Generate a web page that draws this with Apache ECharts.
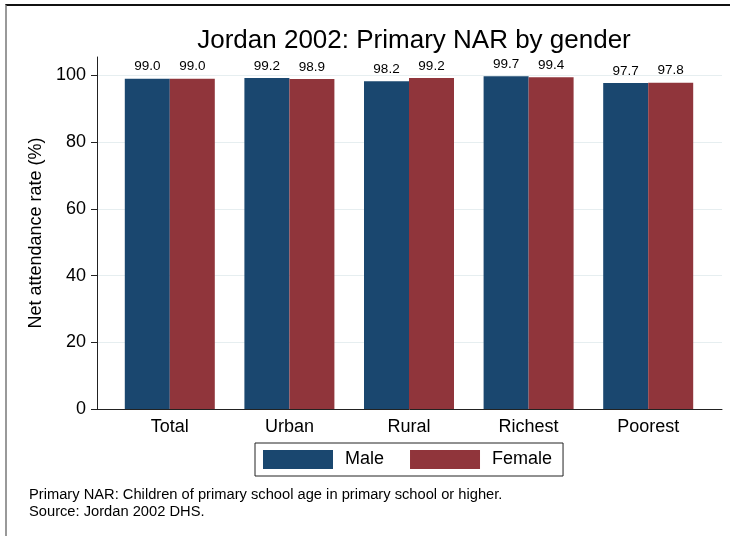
<!DOCTYPE html>
<html>
<head>
<meta charset="utf-8">
<script src="https://cdn.jsdelivr.net/npm/echarts@6/dist/echarts.min.js"></script>
<style>
  html, body { margin: 0; padding: 0; background: #fff; }
  #chart { position: absolute; left: 0; top: 0; width: 730px; height: 536px; }
  #frame { position: absolute; left: 5px; top: 4px; width: 740px; height: 560px;
           border-top: 2px solid #111; border-left: 2px solid #999; pointer-events: none; }
</style>
</head>
<body>
<div id="chart"></div>
<div id="frame"></div>
<script>
const categories = ['Total', 'Urban', 'Rural', 'Richest', 'Poorest'];
const maleValues = [99.0, 99.2, 98.2, 99.7, 97.7];
const femaleValues = [99.0, 98.9, 99.2, 99.4, 97.8];
const yTicks = [0, 20, 40, 60, 80, 100];
const seriesNames = ['Male', 'Female'];
const titleText = 'Jordan 2002: Primary NAR by gender';
const yAxisTitle = 'Net attendance rate (%)';
const noteText = 'Primary NAR: Children of primary school age in primary school or higher.\nSource: Jordan 2002 DHS.';

const FONT = '"Liberation Sans", Arial, sans-serif';
const MALE = '#1a476f';
const FEMALE = '#90353b';
const YMAX = 105.5;

const chart = echarts.init(document.getElementById('chart'), null, { renderer: 'canvas' });

const labelStyle = {
  show: true, position: 'top', distance: 5,
  fontFamily: FONT, fontSize: 13.5, color: '#000',
  formatter: p => p.value.toFixed(1)
};

chart.setOption({
  animation: false,
  backgroundColor: '#fff',
  title: [
    { text: titleText, left: 409, textAlign: 'center', top: 23,
      textStyle: { fontFamily: FONT, fontSize: 26, fontWeight: 'normal', color: '#000' } },
    { text: noteText, left: 29, top: 486, padding: 0,
      textStyle: { fontFamily: FONT, fontSize: 14.7, fontWeight: 'normal', color: '#000', lineHeight: 17 } }
  ],
  legend: {
    data: seriesNames,
    left: 255, top: 443,
    orient: 'horizontal',
    icon: 'rect',
    itemWidth: 70, itemHeight: 19,
    itemGap: 26,
    padding: [7, 11, 7, 8],
    borderColor: '#222', borderWidth: 1,
    textStyle: { fontFamily: FONT, fontSize: 18, color: '#000', padding: [0, 0, 0, 7] }
  },
  grid: [
    { left: 110, right: 22, top: 57, bottom: 127, containLabel: false },
    { left: 97, right: 8, top: 57, bottom: 127, containLabel: false }
  ],
  xAxis: [
    { type: 'category', gridIndex: 0, data: categories,
      axisLine: { show: false }, axisTick: { show: false },
      axisLabel: { fontFamily: FONT, fontSize: 18, color: '#000', margin: 9 } },
    { type: 'value', gridIndex: 1, min: 0, max: 1,
      axisLine: { show: true, onZero: false, lineStyle: { color: '#222', width: 1 } },
      axisTick: { show: false }, axisLabel: { show: false }, splitLine: { show: false } }
  ],
  yAxis: [
    { type: 'value', gridIndex: 0, min: 0, max: YMAX, show: false, splitLine: { show: false } },
    { type: 'value', gridIndex: 1, min: 0, max: YMAX, interval: 20,
      name: yAxisTitle, nameLocation: 'middle', nameGap: 49,
      nameTextStyle: { fontFamily: FONT, fontSize: 18, color: '#000' },
      axisLine: { show: true, lineStyle: { color: '#222', width: 1 } },
      axisTick: { show: true, length: 6, customValues: yTicks, lineStyle: { color: '#222' } },
      axisLabel: { fontFamily: FONT, fontSize: 18, color: '#000', margin: 11, customValues: yTicks },
      splitLine: { show: true, lineStyle: { color: '#e6eef0', width: 1 } } }
  ],
  series: [
    { name: seriesNames[0], type: 'bar', xAxisIndex: 0, yAxisIndex: 0,
      data: maleValues, barWidth: 45, barGap: '0%', barCategoryGap: '0%',
      itemStyle: { color: MALE }, label: labelStyle, z: 5 },
    { name: seriesNames[1], type: 'bar', xAxisIndex: 0, yAxisIndex: 0,
      data: femaleValues, barWidth: 45, barGap: '0%',
      itemStyle: { color: FEMALE }, label: labelStyle, z: 5 }
  ]
});
</script>
</body>
</html>
